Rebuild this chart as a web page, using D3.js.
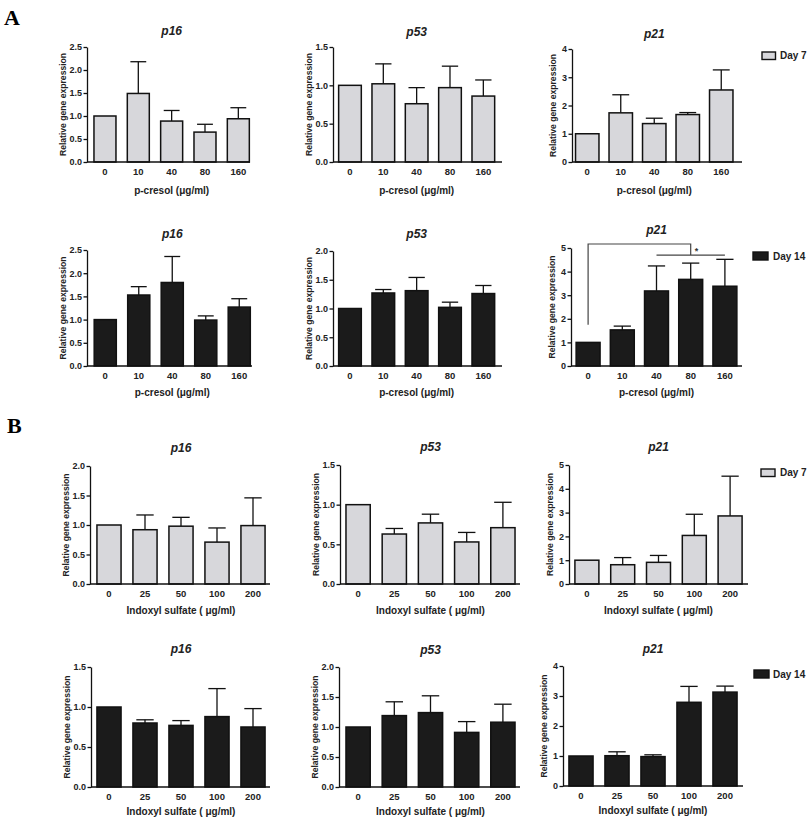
<!DOCTYPE html>
<html><head><meta charset="utf-8">
<script src="https://cdn.jsdelivr.net/npm/d3@7"></script>
<style>body{margin:0;background:#fff}</style>
</head><body>
<svg id="chart" width="811" height="822"></svg>
<script>
// ---------- DATA ----------
const pcDoses = ["0","10","40","80","160"];
const isDoses = ["0","25","50","100","200"];
const pcTitle = "p-cresol (\u03bcg/ml)";
const isTitle = "Indoxyl sulfate ( \u03bcg/ml)";
const legendDay7 = "Day 7";
const legendDay14 = "Day 14";

// p-cresol, Day 7
const pcD7p16 = [1.00,1.49,0.89,0.65,0.94];
const pcD7p16Err = [0,0.69,0.23,0.17,0.24];
const pcD7p53 = [1.00,1.02,0.76,0.97,0.86];
const pcD7p53Err = [0,0.26,0.21,0.28,0.21];
const pcD7p21 = [1.00,1.74,1.36,1.68,2.55];
const pcD7p21Err = [0,0.64,0.19,0.07,0.71];
// p-cresol, Day 14
const pcD14p16 = [1.00,1.53,1.80,0.99,1.27];
const pcD14p16Err = [0,0.18,0.56,0.09,0.18];
const pcD14p53 = [1.00,1.27,1.31,1.02,1.26];
const pcD14p53Err = [0,0.06,0.23,0.09,0.14];
const pcD14p21 = [1.00,1.53,3.18,3.67,3.38];
const pcD14p21Err = [0,0.16,1.06,0.69,1.14];
// Indoxyl sulfate, Day 7
const isD7p16 = [1.00,0.92,0.98,0.71,0.99];
const isD7p16Err = [0,0.25,0.15,0.24,0.47];
const isD7p53 = [1.00,0.63,0.77,0.53,0.71];
const isD7p53Err = [0,0.07,0.11,0.12,0.32];
const isD7p21 = [1.00,0.81,0.91,2.04,2.86];
const isD7p21Err = [0,0.30,0.29,0.89,1.67];
// Indoxyl sulfate, Day 14
const isD14p16 = [1.00,0.80,0.77,0.88,0.75];
const isD14p16Err = [0,0.04,0.06,0.35,0.23];
const isD14p53 = [1.00,1.19,1.24,0.91,1.08];
const isD14p53Err = [0,0.23,0.28,0.18,0.30];
const isD14p21 = [1.00,1.01,0.98,2.79,3.13];
const isD14p21Err = [0,0.13,0.06,0.53,0.20];

// y tick labels
const ticks25 = [0,0.5,1.0,1.5,2.0,2.5];
const ticks20 = [0,0.5,1.0,1.5,2.0];
const ticks15 = [0,0.5,1.0,1.5];
const ticks4 = [0,1,2,3,4];
const ticks5 = [0,1,2,3,4,5];

// significance annotation (p-cresol Day 14 p21)
const sigFrom = "0", sigTo = "80", sigGroup = ["40","160"];
const sigLevels = {start:1.75, top:5.17, group:4.70};
const sigLabel = "*";

// ---------- PANELS ----------
const panels = [
 {gene:"p16", cats:pcDoses, mean:pcD7p16, err:pcD7p16Err, ticks:ticks25, dec:true, day:7, xt:pcTitle},
 {gene:"p53", cats:pcDoses, mean:pcD7p53, err:pcD7p53Err, ticks:ticks15, dec:true, day:7, xt:pcTitle},
 {gene:"p21", cats:pcDoses, mean:pcD7p21, err:pcD7p21Err, ticks:ticks4, dec:false, day:7, xt:pcTitle, legend:legendDay7},
 {gene:"p16", cats:pcDoses, mean:pcD14p16, err:pcD14p16Err, ticks:ticks25, dec:true, day:14, xt:pcTitle},
 {gene:"p53", cats:pcDoses, mean:pcD14p53, err:pcD14p53Err, ticks:ticks20, dec:true, day:14, xt:pcTitle},
 {gene:"p21", cats:pcDoses, mean:pcD14p21, err:pcD14p21Err, ticks:ticks5, dec:false, day:14, xt:pcTitle, legend:legendDay14, sig:true},
 {gene:"p16", cats:isDoses, mean:isD7p16, err:isD7p16Err, ticks:ticks20, dec:true, day:7, xt:isTitle},
 {gene:"p53", cats:isDoses, mean:isD7p53, err:isD7p53Err, ticks:ticks15, dec:true, day:7, xt:isTitle},
 {gene:"p21", cats:isDoses, mean:isD7p21, err:isD7p21Err, ticks:ticks5, dec:false, day:7, xt:isTitle, legend:legendDay7},
 {gene:"p16", cats:isDoses, mean:isD14p16, err:isD14p16Err, ticks:ticks15, dec:true, day:14, xt:isTitle},
 {gene:"p53", cats:isDoses, mean:isD14p53, err:isD14p53Err, ticks:ticks20, dec:true, day:14, xt:isTitle},
 {gene:"p21", cats:isDoses, mean:isD14p21, err:isD14p21Err, ticks:ticks4, dec:false, day:14, xt:isTitle, legend:legendDay14},
];

// ---------- LAYOUT ----------
const layouts = [
 {ax:87,  top:47,  bot:162, b0:88.3, b1:255, axEnd:250, titleY:34.5, xtDy:31.5, pi:0.34},
 {ax:333, top:47,  bot:162, b0:333.3,b1:500, axEnd:502, titleY:35.5, xtDy:31.5, pi:0.32},
 {ax:572, top:49,  bot:162, b0:570.5,b1:738, axEnd:742, titleY:37.5, xtDy:31.5, pi:0.30, lg:{x:762,y:52,w:13.5,h:7.5,tx:780}},
 {ax:87,  top:250, bot:366, b0:88.5, b1:256, axEnd:252, titleY:237.5,xtDy:29.5, pi:0.34},
 {ax:333, top:251, bot:366, b0:333.3,b1:500, axEnd:502, titleY:237.5,xtDy:29.5, pi:0.32},
 {ax:571, top:248, bot:366, b0:571,  b1:742, axEnd:742, titleY:233.5,xtDy:29.5, pi:0.30, lg:{x:753,y:252,w:15,h:8,tx:773}},
 {ax:90,  top:466, bot:584, b0:91,   b1:271, axEnd:270, titleY:451.5,xtDy:29.5, pi:0.33},
 {ax:340, top:465, bot:584, b0:340,  b1:521, axEnd:520, titleY:451,  xtDy:29.5, pi:0.33},
 {ax:569, top:465, bot:584, b0:569,  b1:748, axEnd:748, titleY:451,  xtDy:29.5, pi:0.33, lg:{x:761,y:469,w:14,h:7.5,tx:780}},
 {ax:91,  top:667, bot:787, b0:91,   b1:271, axEnd:270, titleY:652.5,xtDy:27.5, pi:0.33},
 {ax:339, top:667, bot:787, b0:340,  b1:521, axEnd:520, titleY:654,  xtDy:27.5, pi:0.33},
 {ax:563, top:666, bot:786, b0:563,  b1:743, axEnd:743, titleY:653,  xtDy:27.5, pi:0.33, lg:{x:754,y:670,w:15,h:8,tx:773}},
];

const fillFor = {7:"#d7d7db", 14:"#1b1b1b"};
const ink = "#111";
const FONT = "'Liberation Sans', Arial, sans-serif";

const svg = d3.select("#chart");
svg.append("rect").attr("width",811).attr("height",822).attr("fill","#fff");

// panel letters
svg.append("text").attr("x",4).attr("y",25).text("A")
  .attr("font-family","'Liberation Serif','Times New Roman',serif").attr("font-weight","bold").attr("font-size",22).attr("fill","#000");
svg.append("text").attr("x",7).attr("y",433).text("B")
  .attr("font-family","'Liberation Serif','Times New Roman',serif").attr("font-weight","bold").attr("font-size",22).attr("fill","#000");

panels.forEach((p,i)=>{
  const L = layouts[i];
  const g = svg.append("g");
  const x = d3.scaleBand().domain(p.cats).range([L.b0,L.b1]).paddingInner(L.pi).paddingOuter(L.pi/2);
  const yMax = p.ticks[p.ticks.length-1];
  const y = d3.scaleLinear().domain([0,yMax]).range([L.bot,L.top]);
  const rows = p.cats.map((c,k)=>({c, m:p.mean[k], e:p.err[k]}));

  // error bars (upper only)
  const cap = x.bandwidth()*0.36;
  rows.filter(d=>d.e>0).forEach(d=>{
    const cx = x(d.c)+x.bandwidth()/2;
    g.append("line").attr("x1",cx).attr("x2",cx).attr("y1",y(d.m)).attr("y2",y(d.m+d.e))
      .attr("stroke",ink).attr("stroke-width",1.3);
    g.append("line").attr("x1",cx-cap).attr("x2",cx+cap).attr("y1",y(d.m+d.e)).attr("y2",y(d.m+d.e))
      .attr("stroke",ink).attr("stroke-width",1.3);
  });

  // bars
  g.selectAll("rect.bar").data(rows).join("rect").attr("class","bar")
    .attr("x",d=>x(d.c)).attr("width",x.bandwidth())
    .attr("y",d=>y(d.m)).attr("height",d=>y(0)-y(d.m))
    .attr("fill",fillFor[p.day]).attr("stroke",ink).attr("stroke-width",1.5);

  // y axis
  const yAx = g.append("g").attr("transform",`translate(${L.ax},0)`)
    .call(d3.axisLeft(y).tickValues(p.ticks).tickSize(3.5).tickSizeOuter(0).tickPadding(1.5)
      .tickFormat(p.dec ? d3.format(".1f") : d3.format("d")));
  yAx.select(".domain").attr("stroke",ink).attr("stroke-width",1.3);
  yAx.selectAll(".tick line").attr("stroke",ink).attr("stroke-width",1.3);
  yAx.selectAll(".tick text").attr("font-family",FONT).attr("font-weight","bold").attr("font-size",9).attr("fill","#222");

  // x axis
  const xAx = g.append("g").attr("transform",`translate(0,${L.bot})`)
    .call(d3.axisBottom(x).tickSize(0).tickPadding(6.5));
  xAx.select(".domain").remove();
  xAx.selectAll(".tick text").attr("font-family",FONT).attr("font-weight","bold").attr("font-size",9.5).attr("fill","#222");
  g.append("line").attr("x1",L.ax).attr("x2",L.axEnd).attr("y1",L.bot).attr("y2",L.bot)
    .attr("stroke",ink).attr("stroke-width",1.3);

  // titles
  const cxMid = (L.b0+L.b1)/2;
  g.append("text").attr("x",cxMid).attr("y",L.titleY).attr("text-anchor","middle").text(p.gene)
    .attr("font-family",FONT).attr("font-weight","bold").attr("font-style","italic").attr("font-size",12).attr("fill","#222");
  g.append("text").attr("x",cxMid).attr("y",L.bot+L.xtDy).attr("text-anchor","middle").text(p.xt)
    .attr("font-family",FONT).attr("font-weight","bold").attr("font-size",10).attr("fill","#222");
  const yl = L.ax - (p.dec ? 24 : 19.5);
  g.append("text").attr("transform",`translate(${yl},${(L.top+L.bot)/2}) rotate(-90)`)
    .attr("text-anchor","middle").attr("dy","0.35em").text("Relative gene expression")
    .attr("font-family",FONT).attr("font-weight","bold").attr("font-size",8.6).attr("fill","#222");

  // legend
  if (p.legend) {
    const lg = L.lg;
    g.append("rect").attr("x",lg.x).attr("y",lg.y).attr("width",lg.w).attr("height",lg.h)
      .attr("fill",fillFor[p.day]).attr("stroke",ink).attr("stroke-width",1.4);
    g.append("text").attr("x",lg.tx).attr("y",lg.y+lg.h/2).attr("dy","0.36em").text(p.legend)
      .attr("font-family",FONT).attr("font-weight","bold").attr("font-size",10).attr("fill","#222");
  }

  // significance bracket
  if (p.sig) {
    const xc = c => x(c)+x.bandwidth()/2;
    const sc = "#444";
    g.append("path")
      .attr("d",`M${xc(sigFrom)},${y(sigLevels.start)}V${y(sigLevels.top)}H${xc(sigTo)}V${y(sigLevels.group)}`)
      .attr("fill","none").attr("stroke",sc).attr("stroke-width",1.2);
    g.append("line").attr("x1",xc(sigGroup[0])).attr("x2",xc(sigGroup[1]))
      .attr("y1",y(sigLevels.group)).attr("y2",y(sigLevels.group)).attr("stroke",sc).attr("stroke-width",1.2);
    g.append("text").attr("x",xc(sigTo)+4).attr("y",y(sigLevels.group)-1).text(sigLabel)
      .attr("font-family",FONT).attr("font-weight","bold").attr("font-size",9).attr("fill","#333");
  }
});
</script>
</body></html>
